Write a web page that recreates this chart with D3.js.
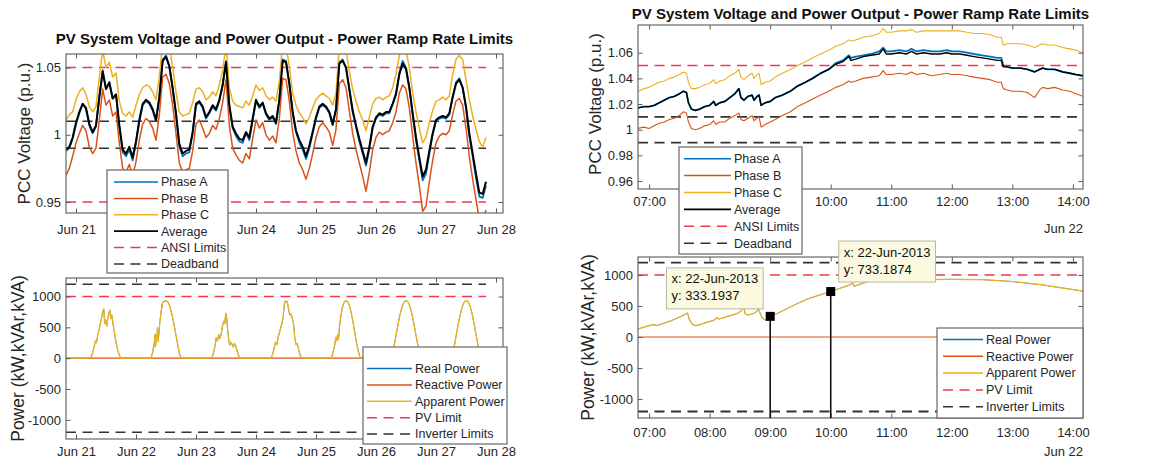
<!DOCTYPE html>
<html>
<head>
<meta charset="utf-8">
<title>PV System Voltage and Power Output</title>
<script src="https://cdn.jsdelivr.net/npm/d3@7/dist/d3.min.js"></script>
<style>
  html, body { margin: 0; padding: 0; background: #fff; }
  svg { display: block; }
</style>
</head>
<body>
<svg id="chart" width="1158" height="461"></svg>
<script>
// ---------------- data ----------------
// Weekly PCC voltage (p.u.), one sample every 80 minutes from 20-Jun-2013 20:00
const weekStart = "2013-06-20 20:00";
const weekStepMinutes = 80;

const weekPhaseA = [
  0.988, 0.990, 0.997, 1.008, 1.016, 1.023, 1.019, 1.007, 1.001, 1.006,
  1.028, 1.048, 1.034, 1.039, 1.027, 1.030, 1.006, 0.987, 0.984, 0.989,
  0.981, 0.994, 1.010, 1.022, 1.025, 1.023, 1.018, 1.010, 1.028, 1.056,
  1.059, 1.051, 1.034, 1.015, 0.991, 0.984, 0.986, 0.987, 1.001, 1.022,
  1.024, 1.020, 1.012, 1.016, 1.021, 1.018, 1.025, 1.037, 1.055, 1.021,
  1.005, 0.999, 0.995, 0.994, 1.001, 0.996, 1.011, 1.025, 1.020, 1.023,
  1.015, 1.011, 1.013, 1.008, 1.026, 1.056, 1.055, 1.038, 1.016, 1.002,
  0.994, 0.989, 0.982, 0.990, 1.001, 1.012, 1.020, 1.022, 1.020, 1.016,
  1.007, 1.019, 1.054, 1.056, 1.050, 1.034, 1.017, 1.006, 0.995, 0.986,
  0.977, 0.989, 1.005, 1.012, 1.015, 1.014, 1.016, 1.016, 1.023, 1.031,
  1.046, 1.055, 1.050, 1.035, 1.015, 0.996, 0.981, 0.966, 0.971, 0.986,
  1.000, 1.010, 1.012, 1.013, 1.012, 1.015, 1.028, 1.039, 1.042, 1.035,
  1.020, 0.999, 0.984, 0.968, 0.954, 0.953, 0.962
];
const weekPhaseB = [
  0.970, 0.975, 0.984, 0.994, 1.001, 1.007, 1.003, 0.991, 0.986, 0.990,
  1.011, 1.034, 1.022, 1.026, 1.014, 1.017, 0.994, 0.975, 0.972, 0.978,
  0.969, 0.980, 0.996, 1.008, 1.012, 1.010, 1.005, 0.996, 1.015, 1.043,
  1.045, 1.038, 1.022, 1.001, 0.979, 0.972, 0.974, 0.975, 0.988, 1.008,
  1.011, 1.005, 0.998, 1.001, 1.007, 1.004, 1.012, 1.024, 1.041, 1.007,
  0.990, 0.985, 0.981, 0.979, 0.986, 0.982, 0.997, 1.011, 1.005, 1.009,
  1.000, 0.996, 0.999, 0.994, 1.012, 1.042, 1.041, 1.025, 1.002, 0.988,
  0.979, 0.974, 0.967, 0.975, 0.986, 0.998, 1.006, 1.009, 1.006, 1.002,
  0.992, 1.004, 1.038, 1.041, 1.035, 1.018, 1.001, 0.989, 0.979, 0.969,
  0.958, 0.972, 0.989, 0.998, 1.002, 1.000, 1.002, 1.003, 1.009, 1.017,
  1.031, 1.037, 1.034, 1.020, 0.999, 0.979, 0.962, 0.943, 0.947, 0.965,
  0.981, 0.994, 0.999, 1.001, 1.000, 1.003, 1.015, 1.025, 1.027, 1.022,
  1.005, 0.984, 0.967, 0.952, 0.937, 0.936, 0.944
];
const weekPhaseC = [
  1.011, 1.015, 1.017, 1.026, 1.032, 1.035, 1.030, 1.021, 1.017, 1.021,
  1.043, 1.063, 1.050, 1.054, 1.043, 1.046, 1.025, 1.016, 1.014, 1.017,
  1.013, 1.022, 1.030, 1.035, 1.037, 1.036, 1.032, 1.026, 1.043, 1.069,
  1.072, 1.066, 1.050, 1.032, 1.017, 1.014, 1.015, 1.016, 1.024, 1.034,
  1.035, 1.032, 1.026, 1.028, 1.032, 1.029, 1.037, 1.048, 1.067, 1.035,
  1.025, 1.022, 1.021, 1.020, 1.025, 1.022, 1.029, 1.037, 1.033, 1.035,
  1.029, 1.026, 1.028, 1.025, 1.040, 1.068, 1.066, 1.051, 1.031, 1.022,
  1.016, 1.013, 1.008, 1.013, 1.020, 1.026, 1.029, 1.031, 1.029, 1.027,
  1.022, 1.031, 1.066, 1.068, 1.063, 1.047, 1.034, 1.025, 1.017, 1.011,
  1.003, 1.013, 1.023, 1.027, 1.028, 1.026, 1.028, 1.029, 1.035, 1.045,
  1.059, 1.067, 1.063, 1.050, 1.031, 1.017, 1.005, 0.994, 0.998, 1.009,
  1.018, 1.025, 1.026, 1.028, 1.026, 1.029, 1.045, 1.056, 1.059, 1.056,
  1.041, 1.026, 1.014, 1.004, 0.995, 0.991, 0.998
];
const weekAverage = [
  0.989, 0.991, 0.998, 1.009, 1.017, 1.023, 1.020, 1.008, 1.002, 1.007,
  1.028, 1.047, 1.034, 1.039, 1.027, 1.030, 1.007, 0.989, 0.986, 0.991,
  0.983, 0.995, 1.011, 1.023, 1.026, 1.024, 1.019, 1.011, 1.028, 1.055,
  1.058, 1.051, 1.035, 1.016, 0.993, 0.986, 0.988, 0.989, 1.002, 1.023,
  1.025, 1.021, 1.013, 1.017, 1.022, 1.019, 1.026, 1.037, 1.054, 1.022,
  1.006, 1.001, 0.997, 0.996, 1.002, 0.998, 1.012, 1.026, 1.021, 1.024,
  1.016, 1.012, 1.014, 1.009, 1.026, 1.055, 1.054, 1.038, 1.017, 1.003,
  0.996, 0.991, 0.984, 0.992, 1.002, 1.013, 1.021, 1.023, 1.021, 1.017,
  1.008, 1.019, 1.053, 1.055, 1.050, 1.034, 1.018, 1.007, 0.997, 0.988,
  0.979, 0.991, 1.006, 1.013, 1.016, 1.015, 1.017, 1.017, 1.023, 1.030,
  1.045, 1.053, 1.049, 1.035, 1.016, 0.998, 0.983, 0.969, 0.974, 0.988,
  1.001, 1.011, 1.013, 1.014, 1.013, 1.016, 1.028, 1.038, 1.041, 1.035,
  1.021, 1.001, 0.986, 0.971, 0.957, 0.956, 0.965
];

// 22-Jun-2013 detail, PCC voltage (p.u.)
const dayDate = "2013-06-22";
const dayTimes = [
  "06:49", "06:55", "07:00", "07:05", "07:10", "07:15", "07:20", "07:25", "07:30", "07:34",
  "07:37", "07:39", "07:42", "07:46", "07:50", "07:55", "08:00", "08:04", "08:06", "08:10",
  "08:15", "08:20", "08:25", "08:29", "08:31", "08:34", "08:38", "08:42", "08:44", "08:47",
  "08:49", "08:51", "08:55", "09:00", "09:05", "09:12", "09:20", "09:27", "09:35", "09:42",
  "09:50", "09:58", "10:05", "10:12", "10:18", "10:20", "10:25", "10:32", "10:40", "10:48",
  "10:52", "10:55", "11:00", "11:08", "11:15", "11:20", "11:25", "11:32", "11:40", "11:48",
  "11:55", "12:00", "12:08", "12:15", "12:22", "12:30", "12:38", "12:45", "12:49", "12:51",
  "12:55", "13:00", "13:08", "13:15", "13:22", "13:27", "13:30", "13:35", "13:42", "13:50",
  "13:57", "14:03", "14:10"
];
const dayPhaseA = [
  1.017, 1.018, 1.018, 1.019, 1.021, 1.023, 1.025, 1.026, 1.028, 1.030,
  1.029, 1.021, 1.016, 1.015, 1.016, 1.018, 1.019, 1.022, 1.019, 1.021,
  1.022, 1.025, 1.028, 1.032, 1.025, 1.023, 1.026, 1.027, 1.023, 1.026,
  1.027, 1.019, 1.021, 1.022, 1.025, 1.027, 1.030, 1.034, 1.037, 1.040,
  1.044, 1.047, 1.052, 1.054, 1.058, 1.056, 1.057, 1.058, 1.059, 1.061,
  1.064, 1.061, 1.061, 1.062, 1.061, 1.063, 1.061, 1.062, 1.061, 1.061,
  1.062, 1.061, 1.061, 1.060, 1.059, 1.058, 1.057, 1.056, 1.056, 1.050,
  1.049, 1.048, 1.048, 1.047, 1.045, 1.047, 1.048, 1.047, 1.047, 1.045,
  1.044, 1.043, 1.042
];
const dayPhaseB = [
  1.001, 1.002, 1.001, 1.003, 1.005, 1.006, 1.008, 1.009, 1.011, 1.014,
  1.013, 1.006, 1.001, 1.000, 1.001, 1.003, 1.004, 1.007, 1.004, 1.006,
  1.006, 1.009, 1.011, 1.013, 1.008, 1.007, 1.009, 1.011, 1.007, 1.009,
  1.010, 1.002, 1.004, 1.006, 1.008, 1.011, 1.014, 1.018, 1.021, 1.024,
  1.027, 1.030, 1.033, 1.035, 1.038, 1.037, 1.038, 1.040, 1.041, 1.042,
  1.046, 1.043, 1.043, 1.044, 1.043, 1.045, 1.043, 1.044, 1.042, 1.043,
  1.044, 1.043, 1.043, 1.042, 1.041, 1.040, 1.039, 1.037, 1.037, 1.032,
  1.031, 1.030, 1.030, 1.029, 1.025, 1.031, 1.033, 1.032, 1.033, 1.031,
  1.030, 1.028, 1.026
];
const dayPhaseC = [
  1.030, 1.032, 1.033, 1.035, 1.037, 1.038, 1.040, 1.041, 1.043, 1.045,
  1.044, 1.037, 1.032, 1.032, 1.033, 1.035, 1.036, 1.039, 1.036, 1.038,
  1.039, 1.042, 1.044, 1.047, 1.041, 1.039, 1.042, 1.044, 1.040, 1.043,
  1.044, 1.035, 1.037, 1.038, 1.041, 1.044, 1.047, 1.050, 1.053, 1.056,
  1.059, 1.062, 1.065, 1.067, 1.070, 1.069, 1.070, 1.072, 1.073, 1.075,
  1.079, 1.076, 1.076, 1.077, 1.077, 1.078, 1.076, 1.077, 1.077, 1.077,
  1.077, 1.077, 1.077, 1.076, 1.075, 1.075, 1.074, 1.072, 1.072, 1.066,
  1.067, 1.067, 1.067, 1.066, 1.064, 1.066, 1.067, 1.066, 1.066, 1.064,
  1.063, 1.062, 1.060
];
const dayAverage = [
  1.017, 1.018, 1.018, 1.019, 1.021, 1.023, 1.025, 1.026, 1.028, 1.030,
  1.029, 1.021, 1.016, 1.015, 1.016, 1.018, 1.019, 1.022, 1.019, 1.021,
  1.022, 1.025, 1.028, 1.032, 1.025, 1.023, 1.026, 1.027, 1.023, 1.026,
  1.027, 1.019, 1.021, 1.022, 1.025, 1.027, 1.030, 1.034, 1.037, 1.040,
  1.044, 1.047, 1.051, 1.053, 1.057, 1.054, 1.055, 1.057, 1.058, 1.059,
  1.063, 1.059, 1.059, 1.060, 1.059, 1.061, 1.059, 1.060, 1.059, 1.059,
  1.060, 1.059, 1.059, 1.058, 1.057, 1.056, 1.055, 1.054, 1.054, 1.049,
  1.049, 1.048, 1.048, 1.047, 1.045, 1.047, 1.048, 1.047, 1.047, 1.045,
  1.044, 1.043, 1.042
];

// Apparent power (kVA) of the PV plant, [time, value] per day; zero overnight
const powerSpan = ["2013-06-20 20:00", "2013-06-27 20:00"];
const apparentJun21 = [
  ["05:54", 0], ["06:36", 80], ["07:12", 180], ["07:48", 280], ["08:12", 250],
  ["08:42", 380], ["09:12", 450], ["09:42", 560], ["10:12", 640], ["10:42", 760],
  ["11:06", 800], ["11:30", 560], ["11:54", 620], ["12:18", 520], ["12:42", 640],
  ["13:06", 720], ["13:30", 780], ["13:54", 640], ["14:18", 700], ["14:48", 560],
  ["15:24", 400], ["16:00", 260], ["16:42", 130], ["17:24", 40], ["18:06", 0]
];
const apparentJun22 = [
  ["06:00", 0], ["06:30", 70], ["06:49", 130], ["06:55", 160], ["07:00", 183],
  ["07:05", 200], ["07:08", 185], ["07:13", 215], ["07:20", 253], ["07:26", 290],
  ["07:33", 344], ["07:38", 387], ["07:40", 280], ["07:43", 200], ["07:46", 183],
  ["07:51", 204], ["07:57", 237], ["08:04", 269], ["08:07", 312], ["08:09", 290],
  ["08:14", 312], ["08:20", 344], ["08:27", 376], ["08:32", 430], ["08:34", 495],
  ["08:35", 376], ["08:38", 355], ["08:43", 376], ["08:47", 414], ["08:48", 468],
  ["08:52", 306], ["08:56", 269], ["09:00", 333.1937], ["09:08", 387], ["09:18", 468],
  ["09:28", 548], ["09:37", 613], ["09:47", 667], ["10:00", 733.1874], ["10:10", 790],
  ["10:17", 828], ["10:22", 871], ["10:23", 817], ["10:28", 844], ["10:37", 898],
  ["10:50", 910], ["11:00", 915], ["11:30", 925], ["12:00", 930], ["12:30", 925],
  ["13:00", 895], ["13:30", 840], ["14:00", 765], ["14:10", 740], ["14:30", 690],
  ["15:00", 590], ["15:30", 480], ["16:00", 370], ["16:30", 260], ["17:00", 150],
  ["17:30", 60], ["18:00", 10], ["18:15", 0]
];
const apparentJun23 = [
  ["06:18", 0], ["07:00", 90], ["07:36", 200], ["08:06", 330], ["08:36", 280],
  ["09:06", 380], ["09:36", 320], ["10:06", 400], ["10:36", 520], ["11:06", 600],
  ["11:30", 560], ["11:54", 730], ["12:18", 640], ["12:42", 440], ["13:06", 300],
  ["13:30", 210], ["13:54", 260], ["14:24", 230], ["14:54", 180], ["15:24", 240],
  ["15:54", 200], ["16:24", 120], ["17:00", 50], ["17:36", 0]
];
const apparentJun24 = [
  ["06:00", 0], ["06:36", 60], ["07:12", 150], ["07:48", 260], ["08:18", 220],
  ["08:48", 330], ["09:18", 400], ["09:48", 480], ["10:18", 560], ["10:48", 650],
  ["11:18", 860], ["11:42", 930], ["12:06", 910], ["12:30", 920], ["13:00", 800],
  ["13:30", 700], ["14:00", 720], ["14:30", 650], ["15:00", 560], ["15:30", 330],
  ["16:00", 220], ["16:30", 240], ["17:00", 150], ["17:36", 50], ["18:12", 0]
];
const apparentJun25 = [
  ["06:00", 0], ["06:30", 50], ["07:00", 130], ["07:30", 220], ["08:00", 340],
  ["08:18", 280], ["08:36", 380], ["09:00", 300], ["09:24", 520], ["10:00", 700],
  ["10:30", 810], ["11:00", 880], ["11:30", 920], ["12:00", 930], ["12:30", 920],
  ["13:00", 890], ["13:30", 830], ["14:00", 750], ["14:30", 650], ["15:00", 540],
  ["15:30", 420], ["16:00", 300], ["16:30", 190], ["17:00", 100], ["17:30", 30],
  ["18:00", 0]
];
const apparentJun26 = [
  ["06:00", 0], ["06:30", 60], ["07:00", 150], ["07:30", 260], ["08:00", 370],
  ["08:30", 480], ["09:00", 590], ["09:30", 690], ["10:00", 770], ["10:30", 840],
  ["11:00", 890], ["11:30", 920], ["12:00", 930], ["12:30", 925], ["13:00", 900],
  ["13:30", 850], ["14:00", 780], ["14:30", 690], ["15:00", 590], ["15:30", 480],
  ["16:00", 370], ["16:30", 260], ["17:00", 150], ["17:30", 60], ["18:00", 10],
  ["18:12", 0]
];
const apparentJun27 = [
  ["06:06", 0], ["06:36", 60], ["07:06", 150], ["07:36", 260], ["08:06", 375],
  ["08:36", 485], ["09:06", 595], ["09:36", 690], ["10:06", 775], ["10:36", 845],
  ["11:06", 895], ["11:36", 922], ["12:06", 932], ["12:36", 925], ["13:06", 898],
  ["13:36", 848], ["14:06", 778], ["14:36", 688], ["15:06", 588], ["15:36", 478],
  ["16:06", 365], ["16:36", 255], ["17:06", 145], ["17:36", 55], ["18:06", 8],
  ["18:18", 0]
];
const powerDays = [
  ["2013-06-21", apparentJun21], ["2013-06-22", apparentJun22], ["2013-06-23", apparentJun23],
  ["2013-06-24", apparentJun24], ["2013-06-25", apparentJun25], ["2013-06-26", apparentJun26],
  ["2013-06-27", apparentJun27]
];

// Limits
const ansiLimits = [0.95, 1.05];
const deadband = [0.99, 1.01];
const pvLimit = [1000];
const inverterLimits = [-1200, 1200];

// Data tips on the detail power plot
const dataTipTimes = ["2013-06-22 09:00", "2013-06-22 10:00"];
const dataTipValues = [333.1937, 733.1874];

// Ticks and labels
const weekTicks = ["2013-06-21", "2013-06-22", "2013-06-23", "2013-06-24", "2013-06-25", "2013-06-26", "2013-06-27", "2013-06-28"];
const dayTicks = ["07:00", "08:00", "09:00", "10:00", "11:00", "12:00", "13:00", "14:00"];
const voltWeekTicks = [0.95, 1, 1.05];
const voltDayTicks = [0.96, 0.98, 1, 1.02, 1.04, 1.06];
const powerTicks = [-1000, -500, 0, 500, 1000];
const voltageLegend = ["Phase A", "Phase B", "Phase C", "Average", "ANSI Limits", "Deadband"];
const powerLegend = ["Real Power", "Reactive Power", "Apparent Power", "PV Limit", "Inverter Limits"];
const titleText = "PV System Voltage and Power Output - Power Ramp Rate Limits";

// ---------------- drawing ----------------
const FONT = '"Liberation Sans", Arial, Helvetica, sans-serif';
const COL = {
  blue: "#0072BD", orange: "#D95319", yellow: "#EDB120", black: "#000000",
  red: "#F2384B", dash: "#333333", box: "#5a5a5a", text: "#262626"
};
const TICK = 4.5;
const DASH = "10,6.5";

const svg = d3.select("#chart");
const parseFull = d3.timeParse("%Y-%m-%d %H:%M");
const parseDay = d3.timeParse("%Y-%m-%d");

// panel frames
const PTL = { x0: 66, x1: 503, y0: 54, y1: 213 };
const PBL = { x0: 66, x1: 503, y0: 278, y1: 439 };
const PTR = { x0: 638, x1: 1083, y0: 25, y1: 189 };
const PBR = { x0: 638, x1: 1083, y0: 257, y1: 418 };

// legend frames
const LTL = { x: 107, y: 170, w: 121, h: 103 };
const LTR = { x: 679, y: 147, w: 123, h: 107 };
const LBL = { x: 363, y: 347, w: 144, h: 97 };
const LBR = { x: 937, y: 328, w: 146, h: 90 };

// scales
const xWeek = d3.scaleTime().domain([parseFull("2013-06-20 20:00"), parseFull("2013-06-28 02:48")]).range([PTL.x0, PTL.x1]);
const xDay = d3.scaleTime().domain([parseFull("2013-06-22 06:49"), parseFull("2013-06-22 14:10")]).range([PTR.x0, PTR.x1]);
const yVoltWeek = d3.scaleLinear().domain([0.9418, 1.0601]).range([PTL.y1, PTL.y0]);
const yVoltDay = d3.scaleLinear().domain([0.9538, 1.0816]).range([PTR.y1, PTR.y0]);
const yPowWeek = d3.scaleLinear().domain([-1310, 1300]).range([PBL.y1, PBL.y0]);
const yPowDay = d3.scaleLinear().domain([-1305, 1290]).range([PBR.y1, PBR.y0]);

// time series assembled from the arrays
const weekT0 = parseFull(weekStart);
const weekTimes = weekAverage.map((_, i) => d3.timeMinute.offset(weekT0, i * weekStepMinutes));
const dayT = dayTimes.map(t => parseFull(`${dayDate} ${t}`));

const powerSeries = [{ t: parseFull(powerSpan[0]), v: 0 }];
powerDays.forEach(([day, pts]) => pts.forEach(([hm, v]) => powerSeries.push({ t: parseFull(`${day} ${hm}`), v })));
powerSeries.push({ t: parseFull(powerSpan[1]), v: 0 });
// reactive output is held at zero, so real power equals apparent power
const realSeries = powerSeries;
const reactiveSeries = powerSeries.map(d => ({ t: d.t, v: 0 }));

// clip paths
const defs = svg.append("defs");
function clip(id, p) {
  defs.append("clipPath").attr("id", id).append("rect")
    .attr("x", p.x0).attr("y", p.y0).attr("width", p.x1 - p.x0).attr("height", p.y1 - p.y0);
  return `url(#${id})`;
}

function drawLine(g, data, x, y, color, width, dash) {
  const line = d3.line().x(d => x(d.t)).y(d => y(d.v));
  const path = g.append("path").datum(data).attr("d", line)
    .attr("fill", "none").attr("stroke", color).attr("stroke-width", width)
    .attr("stroke-linejoin", "round");
  if (dash) path.attr("stroke-dasharray", dash);
}

function hLine(g, value, t0, t1, x, y, color, width) {
  drawLine(g, [{ t: t0, v: value }, { t: t1, v: value }], x, y, color, width, DASH);
}

// axes with inward ticks on all four sides; labels sitting under a legend are left out
function drawAxes(p, x, y, xTicks, xFmt, yTicks, yFmt, xPad, legendBox) {
  const g = svg.append("g");
  const ax = (gen, tx, ty) => g.append("g").attr("transform", `translate(${tx},${ty})`)
    .call(gen).call(s => s.select(".domain").remove());
  const bottom = ax(d3.axisBottom(x).tickValues(xTicks).tickFormat(xFmt).tickSizeInner(-TICK).tickSizeOuter(0).tickPadding(xPad), 0, p.y1);
  ax(d3.axisTop(x).tickValues(xTicks).tickFormat("").tickSizeInner(-TICK).tickSizeOuter(0), 0, p.y0);
  ax(d3.axisLeft(y).tickValues(yTicks).tickFormat(yFmt).tickSizeInner(-TICK).tickSizeOuter(0).tickPadding(5), p.x0, 0);
  ax(d3.axisRight(y).tickValues(yTicks).tickFormat("").tickSizeInner(-TICK).tickSizeOuter(0), p.x1, 0);
  if (legendBox && legendBox.y + legendBox.h > p.y1 + xPad + 3) {
    bottom.selectAll(".tick text")
      .filter(d => x(d) > legendBox.x - 18 && x(d) < legendBox.x + legendBox.w + 18)
      .remove();
  }
  g.selectAll(".tick line").attr("stroke", COL.box).attr("stroke-width", 1);
  g.selectAll(".tick text").attr("fill", COL.text)
    .style("font-family", FONT).style("font-size", "13px");
  g.append("rect").attr("x", p.x0).attr("y", p.y0)
    .attr("width", p.x1 - p.x0).attr("height", p.y1 - p.y0)
    .attr("fill", "none").attr("stroke", COL.box).attr("stroke-width", 1.1);
  return g;
}

function title(cx, y) {
  svg.append("text").attr("x", cx).attr("y", y).attr("text-anchor", "middle")
    .style("font-family", FONT).style("font-size", "15px").style("font-weight", "bold")
    .attr("fill", "#111").text(titleText);
}

function yLabel(text, x, y, size) {
  svg.append("text").attr("transform", `translate(${x},${y}) rotate(-90)`)
    .attr("text-anchor", "middle").style("font-family", FONT).style("font-size", size + "px")
    .attr("fill", COL.text).text(text);
}

function legend(box, rowY, rowStep, lx0, lx1, tx, labels, styles) {
  const g = svg.append("g");
  g.append("rect").attr("x", box.x).attr("y", box.y).attr("width", box.w).attr("height", box.h)
    .attr("fill", "#fff").attr("stroke", "#666").attr("stroke-width", 1.2);
  labels.forEach((lab, i) => {
    const yy = rowY + i * rowStep;
    const s = styles[i];
    const ln = g.append("line").attr("x1", lx0).attr("x2", lx1).attr("y1", yy).attr("y2", yy)
      .attr("stroke", s.c).attr("stroke-width", s.w);
    if (s.d) ln.attr("stroke-dasharray", s.d);
    g.append("text").attr("x", tx).attr("y", yy).attr("dy", "0.35em")
      .style("font-family", FONT).style("font-size", "12.5px").attr("fill", COL.text).text(lab);
  });
}

const weekFmt = d3.timeFormat("%b %d");
const hourFmt = d3.timeFormat("%H:%M");
const numFmt = d => String(d);
const weekTickDates = weekTicks.map(parseDay);
const dayTickDates = dayTicks.map(t => parseFull(`${dayDate} ${t}`));
const weekEnd = weekTimes[weekTimes.length - 1];
const [dayStart, dayEnd] = xDay.domain();

const asSeries = (times, vals) => vals.map((v, i) => ({ t: times[i], v }));

// ---- top left: weekly voltage ----
{
  const g = svg.append("g").attr("clip-path", clip("c-tl", PTL));
  ansiLimits.forEach(v => hLine(g, v, weekT0, weekEnd, xWeek, yVoltWeek, COL.red, 1.5));
  deadband.forEach(v => hLine(g, v, weekT0, weekEnd, xWeek, yVoltWeek, COL.dash, 1.5));
  drawLine(g, asSeries(weekTimes, weekPhaseA), xWeek, yVoltWeek, COL.blue, 1.8);
  drawLine(g, asSeries(weekTimes, weekPhaseB), xWeek, yVoltWeek, COL.orange, 1.5);
  drawLine(g, asSeries(weekTimes, weekPhaseC), xWeek, yVoltWeek, COL.yellow, 1.5);
  drawLine(g, asSeries(weekTimes, weekAverage), xWeek, yVoltWeek, COL.black, 2);
  drawAxes(PTL, xWeek, yVoltWeek, weekTickDates, weekFmt, voltWeekTicks, numFmt, 12, LTL);
}

// ---- bottom left: weekly power ----
{
  const g = svg.append("g").attr("clip-path", clip("c-bl", PBL));
  pvLimit.forEach(v => hLine(g, v, weekT0, weekEnd, xWeek, yPowWeek, COL.red, 1.5));
  inverterLimits.forEach(v => hLine(g, v, weekT0, weekEnd, xWeek, yPowWeek, COL.dash, 1.5));
  drawLine(g, realSeries, xWeek, yPowWeek, COL.blue, 0.7);
  drawLine(g, reactiveSeries, xWeek, yPowWeek, COL.orange, 1.2);
  drawLine(g, powerSeries, xWeek, yPowWeek, COL.yellow, 1.3);
  drawAxes(PBL, xWeek, yPowWeek, weekTickDates, weekFmt, powerTicks, numFmt, 8, LBL);
}

// ---- top right: 22-Jun voltage ----
{
  const g = svg.append("g").attr("clip-path", clip("c-tr", PTR));
  ansiLimits.forEach(v => hLine(g, v, dayStart, dayEnd, xDay, yVoltDay, COL.red, 1.5));
  deadband.forEach(v => hLine(g, v, dayStart, dayEnd, xDay, yVoltDay, COL.dash, 1.8));
  drawLine(g, asSeries(dayT, dayPhaseA), xDay, yVoltDay, COL.blue, 1.8);
  drawLine(g, asSeries(dayT, dayPhaseB), xDay, yVoltDay, COL.orange, 1.1);
  drawLine(g, asSeries(dayT, dayPhaseC), xDay, yVoltDay, COL.yellow, 1.1);
  drawLine(g, asSeries(dayT, dayAverage), xDay, yVoltDay, COL.black, 1.4);
  drawAxes(PTR, xDay, yVoltDay, dayTickDates, hourFmt, voltDayTicks, numFmt, 8, LTR);
  svg.append("text").attr("x", PTR.x1).attr("y", 232.5).attr("text-anchor", "end")
    .style("font-family", FONT).style("font-size", "13px").attr("fill", COL.text)
    .text(d3.timeFormat("%b %d")(parseDay(dayDate)));
}

// ---- bottom right: 22-Jun power ----
{
  const g = svg.append("g").attr("clip-path", clip("c-br", PBR));
  pvLimit.forEach(v => hLine(g, v, dayStart, dayEnd, xDay, yPowDay, COL.red, 1.5));
  inverterLimits.forEach(v => hLine(g, v, dayStart, dayEnd, xDay, yPowDay, COL.dash, 1.8));
  drawLine(g, realSeries, xDay, yPowDay, COL.blue, 0.7);
  drawLine(g, reactiveSeries, xDay, yPowDay, COL.orange, 1.1);
  drawLine(g, powerSeries, xDay, yPowDay, COL.yellow, 1.2);
  drawAxes(PBR, xDay, yPowDay, dayTickDates, hourFmt, powerTicks, numFmt, 10, LBR);
  svg.append("text").attr("x", PBR.x1).attr("y", 456).attr("text-anchor", "end")
    .style("font-family", FONT).style("font-size", "13px").attr("fill", COL.text)
    .text(d3.timeFormat("%b %d")(parseDay(dayDate)));
}

// titles and axis labels
title((PTL.x0 + PTL.x1) / 2, 44);
title((PTR.x0 + PTR.x1) / 2, 19);
yLabel("PCC Voltage (p.u.)", 30, (PTL.y0 + PTL.y1) / 2, 17);
yLabel("Power (kW,kVAr,kVA)", 24, (PBL.y0 + PBL.y1) / 2, 17.5);
yLabel("PCC Voltage (p.u.)", 601, 104, 17);
yLabel("Power (kW,kVAr,kVA)", 594, (PBR.y0 + PBR.y1) / 2, 17.5);

// legends
const voltStyles = [
  { c: COL.blue, w: 1.5 }, { c: COL.orange, w: 1.5 }, { c: COL.yellow, w: 1.5 },
  { c: COL.black, w: 1.8 }, { c: COL.red, w: 1.5, d: DASH }, { c: COL.dash, w: 1.5, d: DASH }
];
const powStyles = [
  { c: COL.blue, w: 1.5 }, { c: COL.orange, w: 1.5 }, { c: COL.yellow, w: 1.5 },
  { c: COL.red, w: 1.5, d: DASH }, { c: COL.dash, w: 1.5, d: DASH }
];
legend(LTL, 182, 16.4, 114, 158, 161, voltageLegend, voltStyles);
legend(LTR, 158.7, 16.9, 684, 731, 734, voltageLegend, voltStyles);
legend(LBL, 368.5, 16.4, 367, 412, 415, powerLegend, powStyles);
legend(LBR, 339.5, 16.8, 943, 983, 986, powerLegend, powStyles);

// data tips
const tipFmt = d3.timeFormat("%d-%b-%Y");
const tipSide = ["left", "right"];
dataTipTimes.forEach((ts, k) => {
  const t = parseFull(ts), v = dataTipValues[k];
  const mx = xDay(t), my = yPowDay(v);
  const g = svg.append("g");
  g.append("line").attr("x1", mx).attr("x2", mx).attr("y1", my).attr("y2", PBR.y1)
    .attr("stroke", "#111").attr("stroke-width", 1.6);
  g.append("rect").attr("x", mx - 4.5).attr("y", my - 4.5).attr("width", 9).attr("height", 9)
    .attr("fill", "#000");
  const lines = [`x: ${tipFmt(t)}`, `y: ${v.toFixed(4)}`];
  const box = g.append("rect").attr("fill", "#fbf9df").attr("stroke", "#b8b8a8").attr("stroke-width", 1);
  const texts = lines.map(s => g.append("text").style("font-family", FONT).style("font-size", "13px")
    .attr("fill", "#111").text(s));
  const tw = d3.max(texts, tx => tx.node().getComputedTextLength());
  const w = tw + 10, h = 41;
  const bx = tipSide[k] === "left" ? mx - 7 - w : mx + 8;
  const by = tipSide[k] === "left" ? my - 7.5 - h : my - 9.5 - h;
  box.attr("x", bx).attr("y", by).attr("width", w).attr("height", h);
  texts.forEach((tx, i) => tx.attr("x", bx + 5).attr("y", by + 11 + i * 17).attr("dy", "0.35em"));
});
</script>
</body>
</html>
